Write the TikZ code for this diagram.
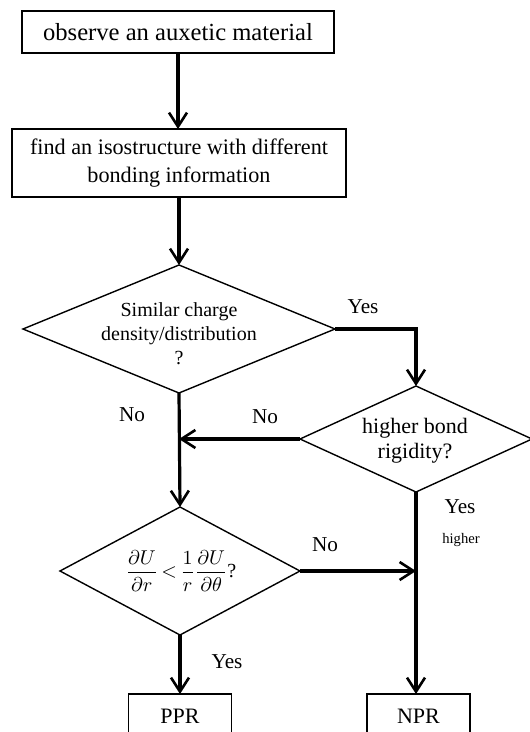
\documentclass[tikz,border=0pt]{standalone}
\usepackage{fontspec}
\setmainfont{Liberation Serif}
\usetikzlibrary{shapes.geometric,arrows.meta}
\begin{document}
\begin{tikzpicture}[x=0.5pt,y=-0.5pt,
  box/.style={draw,line width=0.9pt,inner sep=0pt,outer sep=0pt,align=center},
  dia/.style={draw,diamond,line width=0.7pt,inner sep=0pt,outer sep=0pt},
  arr/.style={line width=1.6pt,-{Straight Barb[length=7pt,width=9pt,line width=1.3pt]}},
  lab/.style={font=\fontsize{10.6}{12}\selectfont,inner sep=0pt},
  dtext/.style={align=center,inner sep=0pt}]
\useasboundingbox (0,0) rectangle (529,732);

\node[box,minimum width=156pt,minimum height=21pt,font=\fontsize{12.3}{14}\selectfont] (b1) at (178,32) {observe an auxetic material};
\node[box,minimum width=167pt,minimum height=34pt,font=\fontsize{11.1}{14}\selectfont] (b2) at (179,163) {find an isostructure with different\\bonding information};

\node[dia,minimum width=156pt,minimum height=64pt] (d1) at (179,329) {};
\node[dtext,font=\fontsize{10}{12}\selectfont] (d1t) at (179,334) {Similar charge\\density/distribution\\?};

\node[dia,minimum width=116pt,minimum height=53pt] (d2) at (416,439) {};
\node[dtext,font=\fontsize{11}{12.5}\selectfont] (d2t) at (415,441) {higher bond\\rigidity?};

\node[dia,minimum width=120pt,minimum height=64pt] (d3) at (180,571) {};
\node[dtext,font=\fontsize{10}{12}\selectfont] (d3t) at (181,571) {$\displaystyle\frac{\partial U}{\partial r}\mathrel{\mkern-2mu<\mkern-2mu}\frac{1}{r}\frac{\partial U}{\partial\theta}$?};

\node[box,minimum width=51.5pt,minimum height=22pt,font=\fontsize{11}{13}\selectfont] (ppr) at (180,716) {PPR};
\node[box,minimum width=51.5pt,minimum height=22pt,font=\fontsize{11}{13}\selectfont] (npr) at (418.5,716) {NPR};

\coordinate (j1) at (d1.south |- d2.west);
\coordinate (j2) at (d2.south |- d3.east);

\draw[arr] (b1.south) -- (b1.south |- b2.north);
\draw[arr] (b2.south) -- (b2.south |- d1.north);
\draw[arr] (d1.east) -| (d2.north);
\draw[arr] (d1.south) -- (d3.north);
\draw[arr] (d2.west) -- (j1);
\draw[arr] (d2.south) -- (d2.south |- npr.north);
\draw[arr] (d3.east) -- (j2);
\draw[arr] (d3.south) -- (ppr.north);

\node[lab] (l1) at (363,307) {Yes};
\node[lab] (l2) at (132,415) {No};
\node[lab] (l3) at (265,417) {No};
\node[lab] (l4) at (460,507) {Yes};
\node[inner sep=0pt,font=\fontsize{7.3}{9}\selectfont] (l5) at (461,540) {higher};
\node[lab] (l6) at (325,545) {No};
\node[lab] (l7) at (227,662) {Yes};
\end{tikzpicture}
\end{document}
